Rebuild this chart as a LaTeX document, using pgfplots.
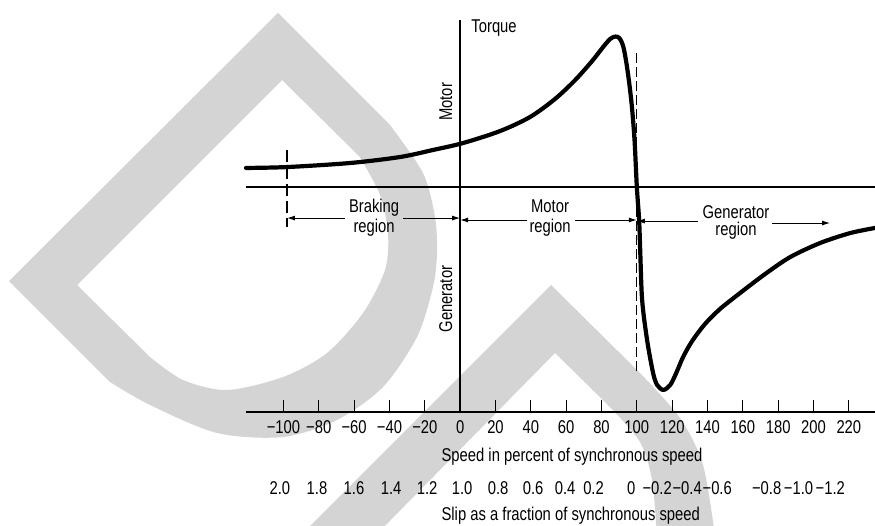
\documentclass[border=0pt]{standalone}
\usepackage{fontspec}
\setmainfont{Liberation Sans}[FakeStretch=0.8]
\usepackage{pgfplots}
\pgfplotsset{compat=1.18}
\usetikzlibrary{arrows.meta}
\definecolor{wm}{RGB}{212,212,212}
\newcommand{\lbl}{\fontsize{18.5bp}{21bp}\selectfont}
\tikzset{dim/.style={line width=1bp, -{Latex[length=8bp,width=5bp]}}}

\begin{document}
\begin{tikzpicture}
% grey watermark behind the figure, in image pixels (y down)
\begin{scope}[x=1bp, y=-1bp]
\fill[wm, even odd rule]
  (9,281) -- (278,13) -- plot[smooth] coordinates {(390,125) (423,173) (435,217) (437,253) (433,287) (417,337) (383,387) (337,420) (283,437) (217,433) (150,405) (110,382)} -- cycle
  (77,285) -- (282,80) -- plot[smooth] coordinates {(360,157) (380,195) (388,233) (385,270) (363,313) (327,353) (283,377) (227,390) (183,380) (150,357)} -- cycle;
\fill[wm] (300,536) -- (551,285) -- plot[smooth] coordinates {(640,373) (680,418) (703,465) (715,536)}
  -- (657,536) -- plot[smooth] coordinates {(657,536) (652,480) (640,442) (610,407)}
  -- (555,353) -- (375,536) -- cycle;
\end{scope}

\begin{axis}[
  at={(246bp,0bp)}, anchor=north west,
  scale only axis, width=629bp, height=412bp,
  xmin=-121.2, xmax=234.8, ymin=-1.5, ymax=1.2467,
  axis x line=bottom, axis y line=none,
  axis line style={-, line width=1.6bp, black},
  xtick={-100,-80,...,220},
  xticklabels={−100,−80,−60,−40,−20,0,20,40,60,80,100,120,140,160,180,200,220},
  ytick=\empty,
  tick align=inside, major tick length=12bp,
  tick style={line width=1bp, black},
  xticklabel style={font=\lbl, anchor=base, yshift=-21bp, inner sep=0pt},
  clip=false,
]
% torque = 0 line and torque axis
\addplot[line width=1.3bp] coordinates {(-121.2,0) (234.8,0)};
\addplot[line width=1.3bp] coordinates {(0,-1.5) (0,1.113)};
% slip limits
\addplot[line width=1.2bp, dash pattern=on 12bp off 5bp] coordinates {(-98,0.247) (-98,-0.267)};
\addplot[line width=1.2bp, dash pattern=on 10bp off 4bp] coordinates {(100,0.893) (100,-1.233)};
% torque-speed curve
\addplot[line width=4.2bp, smooth, line join=round, line cap=round] coordinates {
  (-121.2,0.127) (-98,0.133) (-62.3,0.160) (-34,0.200) (-15.3,0.247) (1.6,0.293)
  (22.6,0.373) (39.6,0.467) (53.7,0.587) (65.1,0.713) (74.7,0.84) (80.9,0.933)
  (84.9,0.987) (87.8,1.003) (90.1,0.993) (92.4,0.933) (94.7,0.78) (97.0,0.56)
  (98.7,0.313) (100,0) (101.3,-0.22) (101.9,-0.42) (103.0,-0.753)
  (105.8,-1.02) (109.2,-1.24) (111.5,-1.32) (115.0,-1.353) (118.9,-1.32)
  (122.3,-1.24) (126.2,-1.133) (131.3,-1.027) (138.6,-0.913) (147.1,-0.813)
  (158.4,-0.707) (172.6,-0.58) (186.8,-0.467) (203.8,-0.373) (220.8,-0.307)
  (234.8,-0.273)};

% region dimension arrows
\draw[dim] (axis cs:-65.2,-0.207) -- (axis cs:-98,-0.207);
\draw[dim] (axis cs:-32.3,-0.207) -- (axis cs:0,-0.207);
\draw[dim] (axis cs:37.9,-0.22) -- (axis cs:0,-0.22);
\draw[dim] (axis cs:65.1,-0.22) -- (axis cs:100,-0.22);
\draw[dim] (axis cs:134.7,-0.227) -- (axis cs:100,-0.227);
\draw[dim] (axis cs:176.6,-0.24) -- (axis cs:209.4,-0.24);

\node[font=\lbl, anchor=base] at (axis cs:-48.7,-0.173) {Braking};
\node[font=\lbl, anchor=base] at (axis cs:-48.7,-0.3) {region};
\node[font=\lbl, anchor=base] at (axis cs:50.9,-0.173) {Motor};
\node[font=\lbl, anchor=base] at (axis cs:50.9,-0.3) {region};
\node[font=\lbl, anchor=base] at (axis cs:156.1,-0.207) {Generator};
\node[font=\lbl, anchor=base] at (axis cs:156.1,-0.32) {region};

\node[font=\lbl, anchor=base west] at (axis cs:4.4,1.033) {Torque};
\node[font=\lbl, rotate=90, anchor=base] at (axis cs:-4.6,0.567) {Motor};
\node[font=\lbl, rotate=90, anchor=base] at (axis cs:-4.6,-0.747) {Generator};

\node[font=\lbl, anchor=base west] at (axis cs:-12.5,-1.827) {Speed in percent of synchronous speed};
\node[font=\lbl, anchor=base west] at (axis cs:-12.5,-2.22) {Slip as a fraction of synchronous speed};

% slip scale
\node[font=\lbl, anchor=base] at (axis cs:-102.0,-2.047) {2.0};
\node[font=\lbl, anchor=base] at (axis cs:-81.0,-2.047) {1.8};
\node[font=\lbl, anchor=base] at (axis cs:-60.1,-2.047) {1.6};
\node[font=\lbl, anchor=base] at (axis cs:-39.1,-2.047) {1.4};
\node[font=\lbl, anchor=base] at (axis cs:-18.7,-2.047) {1.2};
\node[font=\lbl, anchor=base] at (axis cs:1.1,-2.047) {1.0};
\node[font=\lbl, anchor=base] at (axis cs:21.5,-2.047) {0.8};
\node[font=\lbl, anchor=base] at (axis cs:41.3,-2.047) {0.6};
\node[font=\lbl, anchor=base] at (axis cs:59.4,-2.047) {0.4};
\node[font=\lbl, anchor=base] at (axis cs:75.5,-2.047) {0.2};
\node[font=\lbl, anchor=base] at (axis cs:96.8,-2.047) {0};
\node[font=\lbl, anchor=base] at (axis cs:111.5,-2.047) {−0.2};
\node[font=\lbl, anchor=base] at (axis cs:128.5,-2.047) {−0.4};
\node[font=\lbl, anchor=base] at (axis cs:145.5,-2.047) {−0.6};
\node[font=\lbl, anchor=base] at (axis cs:173.5,-2.047) {−0.8};
\node[font=\lbl, anchor=base] at (axis cs:191.5,-2.047) {−1.0};
\node[font=\lbl, anchor=base] at (axis cs:209.5,-2.047) {−1.2};
\end{axis}
\pgfresetboundingbox
\useasboundingbox (0,0) rectangle (875bp,-526bp);
\end{tikzpicture}
\end{document}
